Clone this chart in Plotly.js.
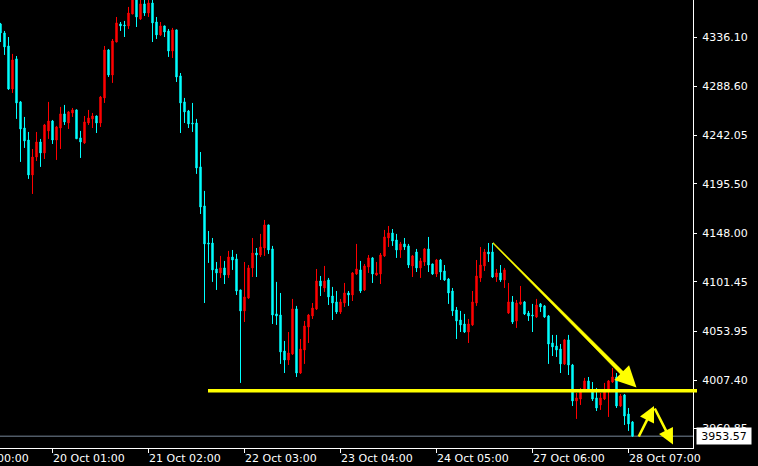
<!DOCTYPE html>
<html>
<head>
<meta charset="utf-8">
<script src="https://cdn.plot.ly/plotly-3.0.1.min.js"></script>
<style>html,body{margin:0;padding:0;background:#000;}#chart{width:758px;height:466px;}</style>
</head>
<body>
<div id="chart"></div>
<script>
// H1 candles, oldest -> newest
const openP = [4348.6,4340.0,4327.5,4286.3,4315.1,4273.9,4248.9,4237.4,4203.9,4221.1,
4235.5,4225.0,4246.1,4255.6,4237.4,4248.9,4262.4,4253.7,4263.3,4266.2,
4239.4,4234.6,4253.7,4257.6,4260.4,4253.7,4277.7,4323.7,4299.7,4331.3,
4348.6,4347.6,4346.7,4358.2,4373.5,4353.4,4367.8,4359.1,4368.7,4350.5,
4338.1,4346.7,4341.9,4322.7,4342.9,4298.8,4273.9,4265.2,4253.7,4253.7,
4211.6,4174.2,4138.7,4138.7,4113.8,4110.0,4114.8,4108.1,4125.3,4123.4,
4093.7,4073.6,4086.0,4114.8,4129.1,4127.2,4133.9,4156.0,4133.0,4070.7,
4069.7,4035.2,4026.6,4032.4,4075.5,4014.1,4036.2,4058.2,4068.8,4075.5,
4102.3,4095.6,4103.3,4087.9,4082.2,4072.6,4081.2,4090.8,4088.9,4109.0,
4112.9,4093.7,4115.7,4124.4,4108.1,4109.0,4126.3,4143.5,4148.3,4141.6,
4132.0,4137.8,4135.9,4116.7,4130.1,4114.8,4120.5,4133.0,4118.6,4109.0,
4122.4,4111.9,4104.2,4092.7,4074.5,4064.9,4061.1,4053.4,4060.2,4081.2,
4105.2,4116.7,4130.1,4130.1,4106.1,4110.0,4103.3,4071.6,4082.2,4064.0,
4080.3,4082.2,4071.6,4069.7,4067.8,4080.3,4078.4,4068.8,4042.9,4040.0,
4037.1,4022.8,4045.8,4021.8,3987.3,3989.2,3997.8,4006.5,3995.9,3990.2,
3983.5,3989.2,3998.8,4005.5,4010.3,3982.5,3993.1,3974.8,3967.2];

const highP = [4349.6,4341.9,4336.1,4319.9,4317.9,4274.8,4259.5,4245.1,4228.8,4245.1,
4238.4,4252.8,4273.9,4256.6,4250.9,4269.1,4271.0,4265.2,4268.1,4266.7,
4246.1,4260.4,4266.2,4263.3,4260.9,4279.6,4327.5,4324.6,4334.2,4355.3,
4350.5,4351.5,4364.9,4377.3,4377.0,4373.5,4375.4,4374.5,4372.5,4355.3,
4350.5,4347.0,4343.8,4344.8,4343.2,4301.6,4277.7,4266.2,4272.9,4257.6,
4225.9,4188.6,4150.2,4143.5,4120.5,4126.3,4121.5,4131.1,4132.0,4128.2,
4094.0,4120.5,4117.6,4143.5,4133.9,4147.4,4160.8,4156.3,4135.9,4101.4,
4090.8,4044.8,4053.4,4085.1,4078.4,4046.7,4064.0,4070.7,4081.2,4113.8,
4107.1,4116.7,4105.2,4096.6,4092.7,4085.1,4100.4,4092.7,4110.9,4137.8,
4121.5,4118.6,4127.2,4125.3,4120.5,4129.1,4151.2,4155.0,4152.1,4147.4,
4139.7,4143.5,4137.8,4127.2,4133.0,4124.4,4133.9,4144.5,4118.9,4123.4,
4123.4,4117.6,4105.2,4095.6,4077.4,4073.6,4070.7,4065.9,4092.7,4122.4,
4134.9,4133.0,4138.7,4138.7,4113.8,4117.6,4114.8,4100.4,4087.9,4084.1,
4097.5,4083.1,4073.6,4080.3,4085.1,4081.2,4079.3,4069.7,4050.6,4050.6,
4041.9,4046.7,4050.6,4022.8,3995.0,3999.8,4009.4,4010.3,4005.5,3999.8,
3995.0,4004.6,4007.4,4018.9,4014.1,3994.0,3994.0,3980.6,3968.1];

const lowP = [4331.3,4318.9,4285.4,4282.5,4257.6,4216.4,4229.8,4200.1,4185.7,4217.3,
4211.6,4219.2,4238.4,4233.6,4218.3,4228.8,4251.8,4248.0,4259.5,4238.4,
4220.2,4233.6,4251.8,4248.9,4244.1,4249.9,4272.9,4297.8,4292.1,4331.0,
4341.9,4336.1,4343.8,4357.9,4345.7,4352.4,4356.3,4355.3,4331.3,4334.2,
4337.1,4336.1,4317.0,4316.0,4293.0,4244.1,4253.7,4248.9,4245.1,4204.9,
4166.5,4081.2,4119.6,4101.4,4093.7,4105.2,4099.4,4105.2,4112.9,4088.9,
4004.6,4063.0,4085.1,4106.1,4106.1,4125.3,4126.3,4128.2,4061.1,4060.2,
4022.8,4014.1,4021.8,4031.4,4010.3,4013.2,4022.8,4042.9,4065.9,4074.5,
4087.9,4091.8,4079.3,4064.9,4070.7,4070.7,4077.4,4078.4,4083.1,4108.1,
4090.8,4092.7,4110.0,4100.4,4107.1,4099.4,4125.3,4134.9,4135.9,4124.4,
4124.4,4132.0,4114.8,4106.1,4110.9,4105.2,4116.7,4110.9,4108.1,4106.1,
4103.3,4102.3,4080.3,4068.8,4046.7,4053.4,4052.5,4042.9,4059.2,4078.4,
4101.4,4111.9,4120.5,4105.2,4101.4,4101.4,4095.6,4070.7,4061.1,4057.3,
4079.3,4069.7,4064.0,4053.4,4066.9,4072.6,4066.9,4022.8,4030.4,4029.5,
4014.1,4021.8,4012.2,3982.5,3970.1,3983.5,3996.9,3996.9,3987.3,3977.7,
3978.7,3988.2,3972.0,4004.6,3980.6,3981.6,3964.3,3958.6,3952.8];

const closeP = [4340.0,4326.6,4286.3,4314.1,4272.9,4248.0,4236.5,4203.9,4221.1,4235.5,
4225.0,4251.8,4255.6,4237.4,4249.9,4262.4,4254.7,4264.3,4266.2,4238.6,
4235.5,4254.7,4258.5,4260.4,4253.7,4278.6,4323.7,4299.7,4332.3,4349.6,
4346.7,4346.9,4359.1,4373.5,4355.3,4367.8,4359.1,4368.7,4349.6,4338.1,
4346.7,4340.9,4322.7,4342.9,4297.8,4272.9,4264.3,4252.8,4252.9,4210.6,
4173.2,4137.8,4137.8,4112.9,4110.0,4114.8,4108.1,4125.3,4122.4,4092.7,
4073.6,4087.0,4114.8,4129.1,4127.2,4134.9,4156.0,4132.0,4069.7,4068.8,
4034.3,4026.6,4033.3,4075.5,4014.1,4037.1,4059.2,4069.7,4076.4,4102.3,
4097.5,4102.3,4087.0,4081.2,4072.6,4082.2,4090.8,4088.9,4110.0,4113.8,
4092.7,4116.7,4124.4,4109.0,4110.0,4127.2,4144.5,4148.3,4140.6,4132.0,
4137.8,4134.9,4117.6,4126.3,4114.8,4121.5,4133.0,4117.6,4109.0,4122.4,
4110.9,4103.3,4090.8,4073.6,4064.0,4060.2,4053.4,4061.1,4082.2,4107.1,
4117.6,4130.1,4128.2,4106.1,4110.0,4103.3,4112.9,4082.2,4063.0,4081.2,
4082.2,4070.7,4068.8,4068.9,4079.3,4077.4,4067.8,4041.9,4039.1,4036.2,
4022.8,4045.8,4021.8,3987.3,3990.2,3996.9,4006.5,3997.8,3989.2,3980.6,
3990.2,3995.9,4006.5,4010.3,3982.5,3992.1,3972.9,3965.3,3953.57];

// time axis (bar index of each labelled hour)
const xTickIdx  = [-11, 13, 37, 61, 85, 109, 133, 157];
const xTickText = ['17 Oct 00:00','20 Oct 01:00','21 Oct 02:00','22 Oct 03:00',
                   '23 Oct 04:00','24 Oct 05:00','27 Oct 06:00','28 Oct 07:00'];
// price axis
const yTickVals = [4336.10, 4288.60, 4242.05, 4195.50, 4148.00, 4101.45, 4053.95, 4007.40, 3960.85];
const bidPrice = 3953.57;
const supportLevel = 3997.0;

const barIdx = openP.map((_, i) => i);
const xRange = [-0.125, 173.125];
const yRange = [3942.24, 4371.56];
const FONT = 'DejaVu Sans, Tahoma, sans-serif';

// helpers for the hand-drawn objects (drawn on the screen in pixels of the plot area)
const PLOT_W = 693, PLOT_H = 448;
const pxToX = px => xRange[0] + px / PLOT_W * (xRange[1] - xRange[0]);
const pxToY = py => yRange[1] - py / PLOT_H * (yRange[1] - yRange[0]);

const trace = {
  type: 'candlestick',
  x: barIdx, open: openP, high: highP, low: lowP, close: closeP,
  increasing: {line: {color: '#FF0000', width: 1}, fillcolor: '#FF0000'},
  decreasing: {line: {color: '#00FFFF', width: 1}, fillcolor: '#00FFFF'},
  whiskerwidth: 0,
  hoverinfo: 'skip'
};

const frac = v => (v - xRange[0]) / (xRange[1] - xRange[0]);

const annotations = xTickIdx.map((k, i) => ({
  xref: 'paper', yref: 'paper', x: frac(k), y: 0,
  xanchor: 'left', yanchor: 'top', xshift: -1.5, yshift: -2,
  text: xTickText[i], showarrow: false,
  font: {family: FONT, size: 11, color: '#FFFFFF'}
}));

// bid price box
annotations.push({
  xref: 'paper', yref: 'y', x: 1, y: bidPrice, xanchor: 'left', yanchor: 'middle',
  xshift: 3, text: bidPrice.toFixed(2), showarrow: false,
  bgcolor: '#FFFFFF', width: 52, height: 14, borderpad: 1,
  font: {family: FONT, size: 11, color: '#000000'}
});

// trend line: tapered shaft + arrow head
const shaft = [[493.35, 242.65], [630.4, 378.6], [627.6, 381.4], [492.65, 243.35]];
const shaftPath = 'M' + shaft.map(p => pxToX(p[0]) + ',' + pxToY(p[1])).join('L') + 'Z';

const arrowStyle = {showarrow: true, arrowhead: 2, arrowcolor: '#FFFF00', text: '',
  xref: 'x', yref: 'y', axref: 'x', ayref: 'y', standoff: 0, startstandoff: 0};
annotations.push(Object.assign({}, arrowStyle, {x: pxToX(636.5), y: pxToY(387.5),
  ax: pxToX(622), ay: pxToY(373), arrowwidth: 3, arrowsize: 1.4}));
annotations.push(Object.assign({}, arrowStyle, {x: pxToX(654), y: pxToY(406),
  ax: pxToX(638), ay: pxToY(438), arrowwidth: 2.6, arrowsize: 1.2}));
annotations.push(Object.assign({}, arrowStyle, {x: pxToX(673), y: pxToY(444.5),
  ax: pxToX(654), ay: pxToY(407), arrowwidth: 2.6, arrowsize: 1.2}));

const layout = {
  width: 758, height: 466,
  margin: {l: 0, r: 65, t: 0, b: 18, pad: 0},
  paper_bgcolor: '#000000', plot_bgcolor: '#000000',
  showlegend: false,
  boxgap: 0.5,
  xaxis: {
    range: xRange, autorange: false, fixedrange: true,
    rangeslider: {visible: false},
    showgrid: false, zeroline: false,
    showline: true, linecolor: '#FFFFFF', linewidth: 1,
    ticks: 'outside', ticklen: 4, tickcolor: '#FFFFFF', tickwidth: 1,
    tickmode: 'array', tickvals: xTickIdx.filter(k => k >= xRange[0]),
    showticklabels: false
  },
  yaxis: {
    side: 'right', range: yRange, autorange: false, fixedrange: true,
    showgrid: false, zeroline: false,
    showline: true, linecolor: '#FFFFFF', linewidth: 1,
    ticks: 'outside', ticklen: 3, tickcolor: '#FFFFFF', tickwidth: 1,
    tickmode: 'array', tickvals: yTickVals, ticktext: yTickVals.map(v => v.toFixed(2)),
    ticklabelstandoff: 3,
    tickfont: {family: FONT, size: 11, color: '#FFFFFF'}
  },
  shapes: [
    {type: 'line', xref: 'paper', yref: 'y', x0: 0, x1: 1, y0: bidPrice, y1: bidPrice,
     line: {color: '#778899', width: 1}, layer: 'below'},
    {type: 'line', xref: 'paper', yref: 'y', x0: 208/693, x1: 697/693, y0: supportLevel, y1: supportLevel,
     line: {color: '#FFFF00', width: 3.5}, layer: 'above'},
    {type: 'path', xref: 'x', yref: 'y', path: shaftPath,
     fillcolor: '#FFFF00', line: {color: '#FFFF00', width: 0.5}, layer: 'above'}
  ],
  annotations: annotations
};

Plotly.newPlot('chart', [trace], layout, {staticPlot: true, displayModeBar: false});
</script>
</body>
</html>
